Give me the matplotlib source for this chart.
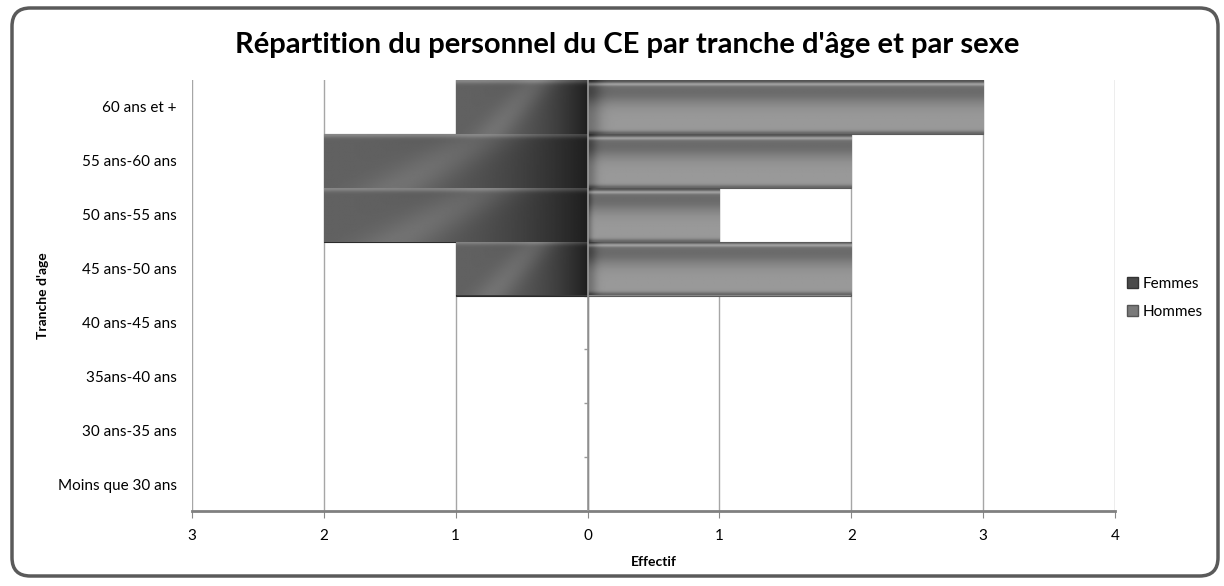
import numpy as np
import matplotlib.pyplot as plt
from matplotlib.patches import FancyBboxPatch, Patch
from matplotlib.ticker import FuncFormatter

categories = ["60 ans et +", "55 ans-60 ans", "50 ans-55 ans", "45 ans-50 ans",
              "40 ans-45 ans", "35ans-40 ans", "30 ans-35 ans", "Moins que 30 ans"]
femmes = [1, 2, 2, 1, 0, 0, 0, 0]
hommes = [3, 2, 1, 2, 0, 0, 0, 0]

plt.rcParams['font.family'] = ['Lato', 'DejaVu Sans']

fig = plt.figure(figsize=(12.24, 5.86), dpi=100)
ax = fig.add_axes([192 / 1224, 1 - 511 / 586, (1115 - 192) / 1224, (511 - 80) / 586])

y = np.arange(len(categories))


def shade_femmes(n=60):
    # diagonal highlight, dark towards the zero line
    u, v = np.meshgrid(np.linspace(0, 1, n * 3), np.linspace(0, 1, n))
    base = 0.38 - 0.26 * u ** 2.5
    streak = 0.08 * np.exp(-((u - 0.45 + 0.35 * (v - 0.5)) / 0.15) ** 2)
    top = 0.15 * np.exp(-(v / 0.06) ** 2)
    return np.clip(base + streak + top, 0, 1)


def shade_hommes(n=60):
    u, v = np.meshgrid(np.linspace(0, 1, n * 3), np.linspace(0, 1, n))
    base = 0.60 - 0.18 * np.exp(-((v - 0.2) / 0.25) ** 2)
    edge = -0.18 * np.exp(-(v / 0.05) ** 2) - 0.2 * np.exp(-((1 - v) / 0.05) ** 2)
    hl = 0.2 * np.exp(-((v - 0.07) / 0.03) ** 2)
    left = -0.15 * np.exp(-(u / 0.03) ** 2)
    return np.clip(base + edge + hl + left, 0, 1)


bars_f = ax.barh(y, [-f for f in femmes], height=1.0, color='#3c3c3c',
                 edgecolor='#2a2a2a', linewidth=0.8, zorder=2)
bars_h = ax.barh(y, hommes, height=1.0, color='#8a8a8a',
                 edgecolor='#5a5a5a', linewidth=0.8, zorder=2)

for bars, shade in [(bars_f, shade_femmes), (bars_h, shade_hommes)]:
    for b in bars:
        w = b.get_width()
        if w == 0:
            continue
        x0, y0 = b.get_x(), b.get_y()
        h = b.get_height()
        im = ax.imshow(shade(), cmap='gray', vmin=0, vmax=1, aspect='auto',
                       extent=[min(x0, x0 + w), max(x0, x0 + w), y0 + h, y0],
                       zorder=2.5, interpolation='bilinear')
        im.set_clip_path(b)

ax.set_xlim(-3, 4)
ax.set_ylim(len(categories) - 0.5, -0.5)

ax.set_yticks(y)
ax.set_yticklabels(categories, fontsize=11)
ax.tick_params(axis='y', length=0, pad=11)

ax.set_xticks(np.arange(-3, 5))
ax.xaxis.set_major_formatter(FuncFormatter(lambda v, p: f"{abs(int(v))}"))
ax.tick_params(axis='x', direction='out', length=5, color='#888888', labelsize=11, pad=8)

for s in ['left', 'right', 'top']:
    ax.spines[s].set_visible(False)
ax.spines['bottom'].set_color('#808080')
ax.spines['bottom'].set_linewidth(2)

ax.grid(axis='x', color='#a6a6a6', linewidth=1, zorder=0)
ax.set_axisbelow(True)
ax.axvline(0, color='#9a9a9a', linewidth=1.2, zorder=3)
ax.hlines(np.arange(len(categories) + 1) - 0.5, -0.03, 0, color='#9a9a9a',
          linewidth=1, zorder=1)

ax.set_xlabel("Effectif", fontsize=10, fontweight='bold', labelpad=9)
fig.text(43 / 1224, 1 - 296 / 586, "Tranche d'age", rotation=90, fontsize=10,
         fontweight='bold', ha='center', va='center')

fig.suptitle("Répartition du personnel du CE par tranche d'âge et par sexe",
             fontsize=21, fontweight='bold', x=627 / 1224, y=1 - 45 / 586, va='center')

handles = [Patch(facecolor='#4a4a4a', edgecolor='#333333', label='Femmes'),
           Patch(facecolor='#7a7a7a', edgecolor='#555555', label='Hommes')]
fig.legend(handles=handles, loc='center left', bbox_to_anchor=(1121 / 1224, 1 - 298 / 586),
           frameon=False, fontsize=11, handlelength=0.7, handleheight=0.7,
           handletextpad=0.3, labelspacing=0.9, borderaxespad=0)

border = FancyBboxPatch((12 / 1224, 10 / 586), 1206 / 1224, 568 / 586,
                        boxstyle="round,pad=0,rounding_size=0.015",
                        transform=fig.transFigure, facecolor='none',
                        edgecolor='#5a5a5a', linewidth=2.5, mutation_aspect=1224 / 586)
fig.patches.append(border)

fig.savefig("out.png", dpi=100)
